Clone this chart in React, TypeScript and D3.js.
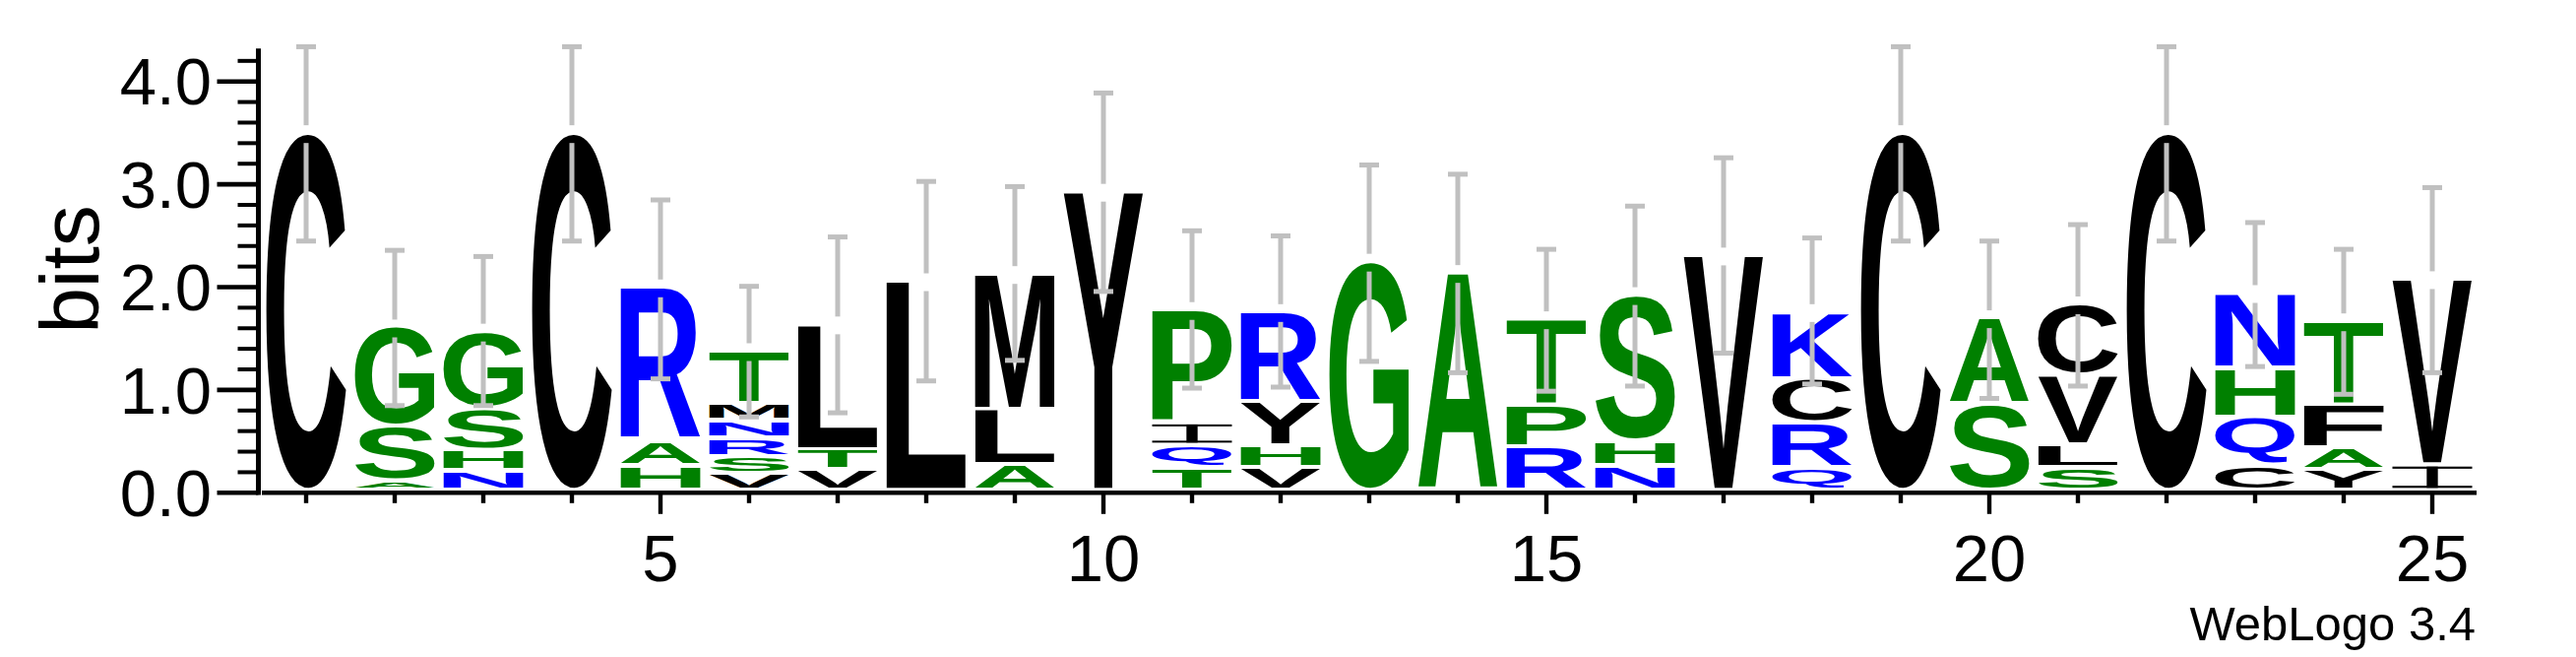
import React, { useMemo } from "react";
import * as d3 from "d3";

// ---------- data ----------
const positions = d3.range(1, 26);

// letters of each stack, bottom -> top
const stackLetters = [
  "C", "ASG", "NHSG", "C", "HAR", "VSRNMT", "VTL", "L", "ALM", "Y",
  "TQIP", "VHYR", "G", "A", "RPT", "NHS", "V", "QRCK", "C", "SA",
  "SLVC", "C", "CQHN", "YAFT", "IV",
];

// heights in bits of each letter, bottom -> top
const stackBits = [
  [3.44],
  [0.09, 0.53, 0.93],
  [0.19, 0.2, 0.41, 0.71],
  [3.44],
  [0.245, 0.245, 1.45],
  [0.16, 0.17, 0.18, 0.17, 0.17, 0.47],
  [0.2, 0.2, 1.18],
  [2.0],
  [0.25, 0.54, 1.28],
  [2.87],
  [0.22, 0.22, 0.22, 1.06],
  [0.22, 0.21, 0.43, 0.84],
  [2.19],
  [2.08],
  [0.42, 0.41, 0.8],
  [0.24, 0.245, 1.38],
  [2.25],
  [0.22, 0.44, 0.43, 0.61],
  [3.44],
  [0.84, 0.8],
  [0.22, 0.225, 0.68, 0.65],
  [3.44],
  [0.245, 0.47, 0.48, 0.69],
  [0.2, 0.21, 0.42, 0.78],
  [0.25, 1.77],
];

const errLow = [
  2.4, 0.8, 0.8, 2.4, 1.06, 0.69, 0.73, 1.04, 1.24, 1.91,
  0.97, 0.98, 1.23, 1.12, 0.94, 0.99, 1.31, 1.01, 2.4, 0.87,
  0.99, 2.4, 1.18, 0.91, 1.12,
];
const errHigh = [
  4.29, 2.31, 2.25, 4.29, 2.8, 1.96, 2.44, 2.98, 2.93, 3.84,
  2.5, 2.45, 3.14, 3.05, 2.32, 2.74, 3.21, 2.43, 4.29, 2.4,
  2.56, 4.29, 2.58, 2.32, 2.92,
];

const greenLetters = "GSAHTP";
const blueLetters = "RNQK";

const yMajorTicks = [0, 1, 2, 3, 4];
const yTickLabels = ["0.0", "1.0", "2.0", "3.0", "4.0"];
const yMinorTicks = [0.2, 0.4, 0.6, 0.8, 1.2, 1.4, 1.6, 1.8, 2.2, 2.4, 2.6, 2.8, 3.2, 3.4, 3.6, 3.8, 4.2];
const xMajorTicks = [5, 10, 15, 20, 25];
const yLabel = "bits";
const footnote = "WebLogo 3.4";

// ---------- layout ----------
const W = 2617;
const H = 667;
const FONT = "'Liberation Sans', Arial, Helvetica, sans-serif";

const letterColor = (ch: string) =>
  greenLetters.includes(ch) ? "#008000" : blueLetters.includes(ch) ? "#0000ff" : "#000000";

function useMetrics() {
  return useMemo(() => {
    const c = document.createElement("canvas");
    const ctx = c.getContext("2d") as CanvasRenderingContext2D;
    ctx.font = "bold 200px 'Liberation Sans'";
    const m: Record<string, { l: number; r: number; a: number; d: number }> = {};
    for (const ch of "ACDEFGHIKLMNPQRSTVWY") {
      const t = ctx.measureText(ch);
      m[ch] = {
        l: t.actualBoundingBoxLeft,
        r: t.actualBoundingBoxRight,
        a: t.actualBoundingBoxAscent,
        d: t.actualBoundingBoxDescent,
      };
    }
    return m;
  }, []);
}

export default function App() {
  const metrics = useMetrics();

  const x = d3.scaleLinear().domain([0.5, 25.5]).range([266, 2516]);
  const y = d3.scaleLinear().domain([0, 4.32]).range([500.3, 49.3]);
  const baseOff = 5; // letters sit slightly above the axis line
  const yL = (v: number) => y(v) - baseOff;
  const colW = x(2) - x(1);
  const glyphW = colW * 0.9;
  const gap = 4.5;

  const glyphs: React.ReactNode[] = [];
  const bars: React.ReactNode[] = [];

  positions.forEach((p, pi) => {
    const letters = stackLetters[pi];
    const bits = stackBits[pi];
    let cum = 0;
    const cx = x(p);
    const x0 = cx - glyphW / 2;
    letters.split("").forEach((ch, li) => {
      const h = bits[li];
      const isTop = li === letters.length - 1;
      const yb = yL(cum);
      const yt = yL(cum + h) + (isTop ? 0 : gap);
      cum += h;
      const gh = yb - yt;
      if (gh <= 0.5) return;
      const fill = letterColor(ch);
      if (ch === "I") {
        const barT = Math.max(2, gh * 0.1);
        const stemW = glyphW * 0.14;
        glyphs.push(
          <g key={`${p}-${li}`} fill={fill}>
            <rect x={x0} y={yt} width={glyphW} height={barT} />
            <rect x={x0} y={yb - barT} width={glyphW} height={barT} />
            <rect x={cx - stemW / 2} y={yt} width={stemW} height={gh} />
          </g>
        );
        return;
      }
      const m = metrics[ch];
      const sx = glyphW / (m.l + m.r);
      const sy = gh / (m.a + m.d);
      const tx = x0 + m.l * sx;
      const ty = yb - m.d * sy;
      glyphs.push(
        <text
          key={`${p}-${li}`}
          x={0}
          y={0}
          fontFamily={FONT}
          fontWeight="bold"
          fontSize={200}
          fill={fill}
          transform={`translate(${tx},${ty}) scale(${sx},${sy})`}
        >
          {ch}
        </text>
      );
    });
    // error bar
    const top = yL(cum);
    const hi = yL(errHigh[pi]);
    const lo = yL(errLow[pi]);
    const g = 9;
    const capW = 20;
    bars.push(
      <g key={`e${p}`} stroke="#c0c0c0" strokeWidth={5} fill="none">
        <line x1={cx} x2={cx} y1={hi} y2={Math.min(top - g, lo)} />
        <line x1={cx} x2={cx} y1={Math.max(top + g, hi)} y2={lo} />
        <line x1={cx - capW / 2} x2={cx + capW / 2} y1={hi} y2={hi} />
        <line x1={cx - capW / 2} x2={cx + capW / 2} y1={lo} y2={lo} />
      </g>
    );
  });

  const axisX = 262.5;
  const tickFont = 67;

  return (
    <div style={{ position: "absolute", left: 0, top: 0 }}>
      <svg width={W} height={H} style={{ display: "block", background: "#fff" }}>
        <rect x={0} y={0} width={W} height={H} fill="#fff" />
        {glyphs}
        {bars}
        {/* y axis */}
        <line x1={axisX} x2={axisX} y1={y(4.32)} y2={y(0) + 2.2} stroke="#000" strokeWidth={5} />
        {yMajorTicks.map((v, i) => (
          <g key={`ym${v}`}>
            <line x1={axisX - 42} x2={axisX} y1={y(v)} y2={y(v)} stroke="#000" strokeWidth={4.6} />
            <text
              x={215}
              y={y(v) + tickFont * 0.355}
              textAnchor="end"
              fontFamily={FONT}
              fontSize={tickFont}
              fill="#000"
            >
              {yTickLabels[i]}
            </text>
          </g>
        ))}
        {yMinorTicks.map((v) => (
          <line key={`yn${v}`} x1={axisX - 21} x2={axisX} y1={y(v)} y2={y(v)} stroke="#000" strokeWidth={4} />
        ))}
        <text
          transform={`translate(100, 273.5) rotate(-90)`}
          textAnchor="middle"
          fontFamily={FONT}
          fontSize={84}
          fill="#000"
        >
          {yLabel}
        </text>
        {/* x axis */}
        <line x1={x(0.5)} x2={x(25.5)} y1={y(0)} y2={y(0)} stroke="#000" strokeWidth={4.4} />
        {positions.map((p) => {
          const major = xMajorTicks.includes(p);
          return (
            <line
              key={`xt${p}`}
              x1={x(p)}
              x2={x(p)}
              y1={y(0)}
              y2={y(0) + (major ? 21.5 : 10.5)}
              stroke="#000"
              strokeWidth={4.4}
            />
          );
        })}
        {xMajorTicks.map((p) => (
          <text
            key={`xl${p}`}
            x={x(p)}
            y={590}
            textAnchor="middle"
            fontFamily={FONT}
            fontSize={tickFont}
            fill="#000"
          >
            {p}
          </text>
        ))}
        <text x={2515} y={650} textAnchor="end" fontFamily={FONT} fontSize={49} fill="#000">
          {footnote}
        </text>
      </svg>
    </div>
  );
}
